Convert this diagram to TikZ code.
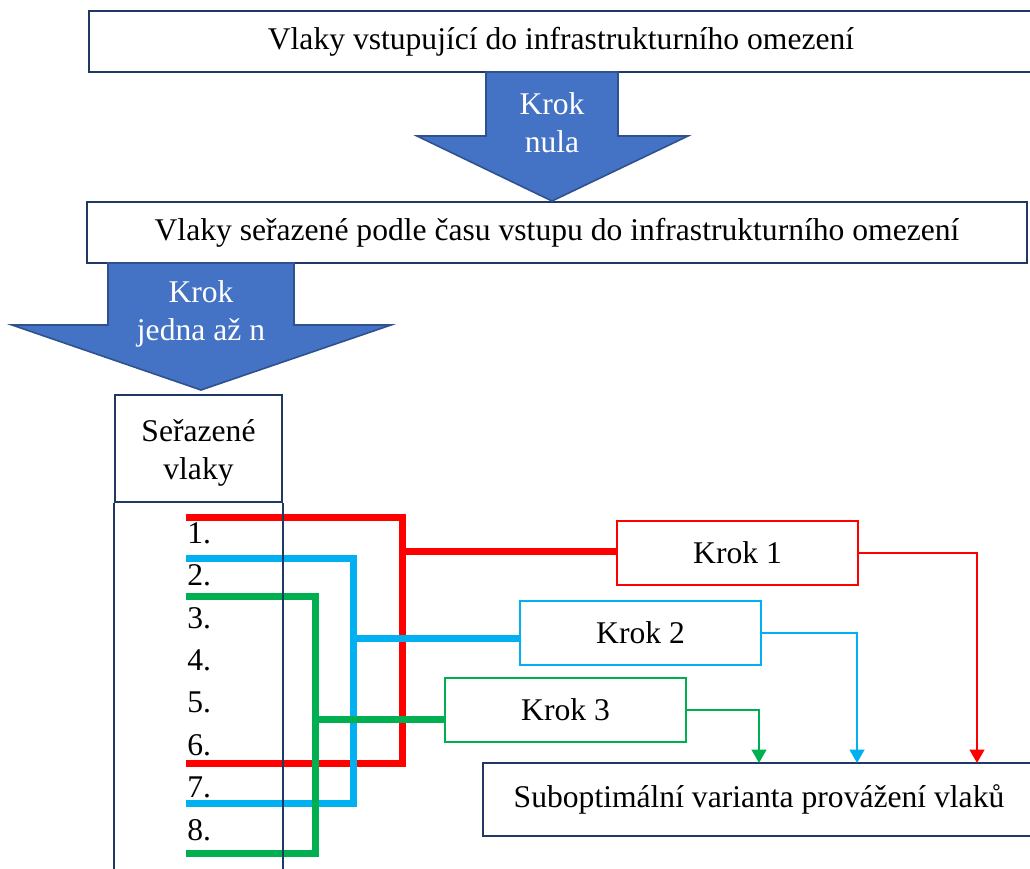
\documentclass[tikz,border=0pt]{standalone}
\usepackage{fontspec}
\setmainfont{Liberation Serif}
\usetikzlibrary{arrows.meta}

\definecolor{tmava}{HTML}{1F3864}
\definecolor{sipka}{HTML}{4472C4}
\definecolor{obrys}{HTML}{2F528F}
\definecolor{cervena}{HTML}{FF0000}
\definecolor{modra}{HTML}{00B0F0}
\definecolor{zelena}{HTML}{00B050}

\tikzset{
  ramec/.style={draw=tmava, line width=1.5pt, fill=white, inner sep=0pt,
    font=\fontsize{23.7}{28.5}\selectfont},
  krokbox/.style={draw=#1, line width=1.5pt, inner sep=0pt,
    minimum width=180.75pt, minimum height=48pt, font=\fontsize{23.7}{28.5}\selectfont},
  sipkatext/.style={text=white, align=center, inner sep=0pt,
    font=\fontsize{23.7}{28.5}\selectfont},
  cislo/.style={anchor=west, inner sep=0pt, font=\fontsize{23.7}{28.5}\selectfont},
  vetev/.style={line width=5.25pt, line join=miter},
  tenka/.style={->, line width=1.5pt, #1}
}

\begin{document}
\begin{tikzpicture}[x=0.75pt, y=-0.75pt, >={Triangle[width=11pt,length=10pt]}]
	\useasboundingbox (0,0) rectangle (1030,868);
	\clip (0,0) rectangle (1030,868);

	% Vstupni a serazene vlaky
	\node[ramec, minimum width=708pt, minimum height=45.75pt] (vstup) at (561,41.5)
		{Vlaky vstupující do infrastrukturního omezení};
	\node[ramec, minimum width=705pt, minimum height=45.75pt] (serazeni) at (557,232.5)
		{Vlaky seřazené podle času vstupu do infrastrukturního omezení};

	% Krok nula
	\draw[fill=sipka, draw=obrys, line width=1.2pt, line join=miter]
		(486,72) -- (618,72) -- (618,136) -- (688,136) -- (552,201)
		-- (417,136) -- (486,136) -- cycle;
	\node[sipkatext] (nula) at (552,123) {Krok\\nula};

	% Krok jedna az n
	\draw[fill=sipka, draw=obrys, line width=1.2pt, line join=miter]
		(108,263) -- (294,263) -- (294,325) -- (391,325) -- (201,390)
		-- (12,325) -- (108,325) -- cycle;
	\node[sipkatext] (jedna) at (201,314) {Krok\\jedna až n};

	% Kroky a vysledek
	\node[krokbox=cervena] (k1) at (737.5,552.5) {Krok 1};
	\node[krokbox=modra] (k2) at (640.5,633) {Krok 2};
	\node[krokbox=zelena] (k3) at (565.5,710) {Krok 3};
	\node[ramec, minimum width=414pt, minimum height=54.75pt] (cil) at (759,799.5)
		{Suboptimální varianta provážení vlaků};

	% Poradi vlaku
	\foreach \i in {1,...,8}
		\node[cislo] (c\i) at (187,{533+42.4*(\i-1)}) {\i.};

	% Cervena: vlaky 1 az 6
	\coordinate (r1) at (186,517);
	\coordinate (r6) at (186,763);
	\coordinate (rv) at (402,551);
	\draw[vetev, cervena] (r1) -| (rv) |- (r6);
	\draw[vetev, cervena] (rv) -- (rv -| k1.west);

	% Modra: vlaky 2 az 7
	\coordinate (m2) at (186,558);
	\coordinate (m7) at (186,803);
	\coordinate (mv) at (353,638);
	\draw[vetev, modra] (m2) -| (mv) |- (m7);
	\draw[vetev, modra] (mv) -- (mv -| k2.west);

	% Zelena: vlaky 3 az 8
	\coordinate (z3) at (186,596);
	\coordinate (z8) at (186,853);
	\coordinate (zv) at (315,719);
	\draw[vetev, zelena] (z3) -| (zv) |- (z8);
	\draw[vetev, zelena] (zv) -- (zv -| k3.west);

	% Sloupec serazenych vlaku
	\node[ramec, fill=none, minimum width=125.25pt, minimum height=80.25pt]
		(sloupec) at (198.5,448.5) {};
	\node[sipkatext, text=black] (nadpis) at (198.5,453) {Seřazené\\vlaky};
	\draw[tmava, line width=1.5pt] (sloupec.south west) -- (sloupec.south west |- 0,880);
	\draw[tmava, line width=1.5pt] (sloupec.south east) -- (sloupec.south east |- 0,880);

	% Vystupy kroku
	\coordinate (v1) at (977,763);
	\coordinate (v2) at (857,763);
	\coordinate (v3) at (759,763);
	\draw[tenka=cervena] (k1.east) -| (v1);
	\draw[tenka=modra] (k2.east) -| (v2);
	\draw[tenka=zelena] (k3.east) -| (v3);
\end{tikzpicture}
\end{document}
